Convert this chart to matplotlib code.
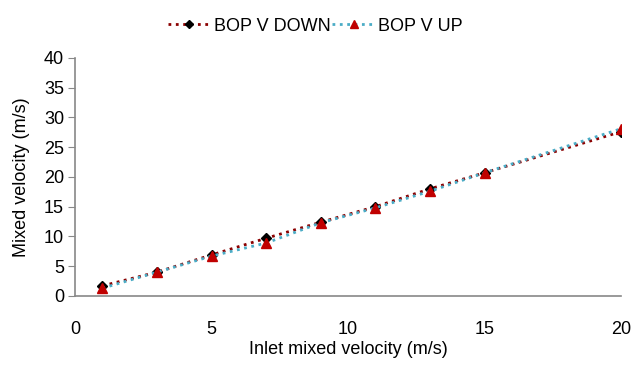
import matplotlib.pyplot as plt

x = [1, 3, 5, 7, 9, 11, 13, 15, 20]
v_down = [1.7, 4.0, 6.9, 9.7, 12.4, 15.0, 18.0, 20.7, 27.6]
v_up = [1.3, 4.0, 6.7, 8.9, 12.3, 14.8, 17.6, 20.7, 28.1]

plt.rcParams['font.family'] = ['Liberation Sans', 'DejaVu Sans']

fig = plt.figure(figsize=(6.37, 3.69), dpi=100)
ax = fig.add_axes([0.118, 0.198, 0.857, 0.645])

ax.plot(x, v_down, linestyle=':', color='#8b0000', linewidth=2,
        marker='D', markersize=5, markerfacecolor='black', markeredgecolor='black',
        label='BOP V DOWN')
ax.plot(x, v_up, linestyle=':', color='#4bacc6', linewidth=2,
        marker='^', markersize=7, markerfacecolor='#c00000', markeredgecolor='#c00000',
        label='BOP V UP')

ax.set_xlim(0, 20)
ax.set_ylim(0, 40)
ax.set_xticks(range(0, 21, 5))
ax.set_yticks(range(0, 41, 5))
ax.tick_params(labelsize=13, length=5, color='#888888', direction='out', pad=3)
ax.tick_params(axis='x', length=0, pad=18)
for s in ['top', 'right']:
    ax.spines[s].set_visible(False)
for s in ['left', 'bottom']:
    ax.spines[s].set_color('#888888')
    ax.spines[s].set_linewidth(1.2)

ax.set_xlabel('Inlet mixed velocity (m/s)', fontsize=13, labelpad=2)
ax.set_ylabel('Mixed velocity (m/s)', fontsize=13, labelpad=10)

leg = ax.legend(loc='lower center', bbox_to_anchor=(0.44, 1.03), ncol=2, frameon=False,
                fontsize=13, handlelength=2.4, handletextpad=0.15, columnspacing=0.1,
                markerscale=0.8)

fig.savefig('out.png', dpi=100)
